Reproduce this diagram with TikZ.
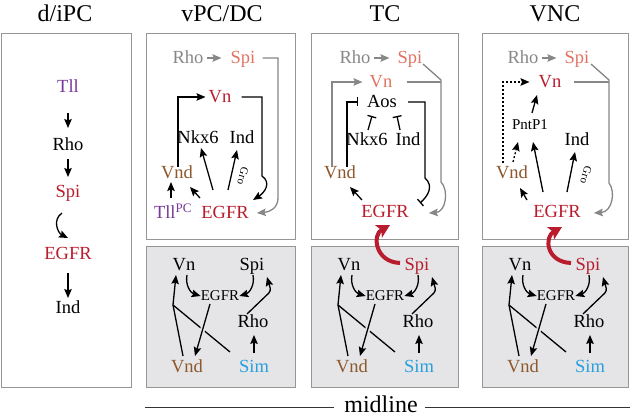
\documentclass[tikz,border=0pt]{standalone}
\usepackage{fontspec}
\setmainfont{Liberation Serif}
\usetikzlibrary{arrows.meta,calc}
\definecolor{dred}{RGB}{185,28,45}
\definecolor{salmon}{RGB}{226,115,98}
\definecolor{gline}{RGB}{135,135,135}
\definecolor{brownv}{RGB}{140,88,45}
\definecolor{purp}{RGB}{120,55,155}
\definecolor{cyanS}{RGB}{40,160,220}
\definecolor{panelfill}{RGB}{229,229,231}
\definecolor{framec}{RGB}{150,150,150}

\tikzset{
  lbl/.style={inner sep=0pt, font=\fontsize{18.5}{20}\selectfont, text height=12pt, text depth=0pt},
  slbl/.style={inner sep=0pt, font=\fontsize{15}{17}\selectfont, text height=10pt, text depth=0pt},
  grolbl/.style={inner sep=0pt, font=\fontsize{11}{12}\selectfont, rotate=-105},
  hdr/.style={inner sep=0pt, font=\fontsize{24}{26}\selectfont, text height=16pt, text depth=0pt},
  act/.style={-{Stealth[length=9pt,width=7.5pt,inset=1.5pt]}, line width=1.3pt},
  inh/.style={-{Bar[width=9pt]}, line width=1.3pt},
  bigact/.style={-{Stealth[length=13pt,width=14pt,inset=3pt]}, line width=4pt, dred},
  panelbox/.style={draw=framec, line width=1pt},
  dotline/.style={dash pattern=on 2pt off 2pt},
  plainline/.style={line width=1.3pt},
}

\newcommand{\lowerpanel}[4]{%
\begin{scope}[shift={(#2,0)}, name prefix=#1-]
  \path[panelbox, fill=panelfill] (0,247) rectangle (#3,388);
  \node[lbl] (vn) at (38,265) {Vn};
  \node[lbl, text=#4] (spi) at (106,265) {Spi};
  \node[slbl] (egfr) at (74,296) {EGFR};
  \node[lbl] (rho) at (107,322) {Rho};
  \node[lbl, text=brownv] (vnd) at (41,367) {Vnd};
  \node[lbl, text=cyanS] (sim) at (108,367) {Sim};
  \coordinate (apex) at (27,305);
  \draw[act] ($(vn)+(3,10)$) .. controls +(-2,10) and +(-10,-3) .. (egfr.west);
  \draw[act] ($(spi)+(1,10)$) .. controls +(2,10) and +(10,-3) .. (egfr.east);
  \draw[act, rounded corners=3pt] ($(rho)+(-6,-8)$) -- ($(spi)+(19,26)$) -- ($(spi)+(15,12)$);
  \draw[act] ($(sim)+(0,-14)$) -- ($(rho)+(1,13)$);
  \draw[plainline] ($(sim)+(-24,-15)$) -- (apex);
  \draw[act, preaction={draw=panelfill, line width=5pt, -, shorten <=6pt, shorten >=8pt}] ($(egfr)+(-10,8)$) -- ($(vnd)+(8,-11)$);
  \draw[act] ($(vnd)+(-4,-11)$) -- (apex) -- ($(vn)+(-8,10)$);
\end{scope}}

\begin{document}
\begin{tikzpicture}[x=1pt, y=-1pt]
\useasboundingbox (0,0) rectangle (630,419);

% headers
\node[hdr] (h0) at (65,14) {d/iPC};
\node[hdr] (h1) at (222,14) {vPC/DC};
\node[hdr] (h2) at (385,14) {TC};
\node[hdr] (h3) at (555,14) {VNC};

% d/iPC
\path[panelbox] (1,34) rectangle (131,388);
\node[lbl, text=purp] (tll0) at (68,87) {Tll};
\node[lbl] (rho0) at (68,145) {Rho};
\node[lbl, text=dred] (spi0) at (68,192) {Spi};
\node[lbl, text=dred] (egfr0) at (68,254) {EGFR};
\node[lbl] (ind0) at (68,308) {Ind};
\draw[act] ($(tll0)+(0,26)$) -- ($(rho0)+(0,-17)$);
\draw[act] ($(rho0)+(0,14)$) -- ($(spi0)+(0,-15)$);
\draw[act] ($(spi0)+(-6,21)$) .. controls +(-10,7) and +(-10,-5) .. ($(egfr0)+(0,-16)$);
\draw[act] ($(egfr0)+(0,19)$) -- ($(ind0)+(0,-10)$);

% vPC/DC top
\path[panelbox, fill=white] (146,34) rectangle (295,240);
\node[lbl, text=gline] (rho1) at (188,58) {Rho};
\node[lbl, text=salmon] (spi1) at (243,58) {Spi};
\node[lbl, text=dred] (vn1) at (220,97) {Vn};
\node[lbl] (nkx1) at (198,138) {Nkx6};
\node[lbl] (ind1) at (242,138) {Ind};
\node[lbl, text=brownv] (vnd1) at (177,173) {Vnd};
\node[lbl, text=purp] (tll1) at (173,213) {Tll\textsuperscript{PC}};
\node[lbl, text=dred] (egfr1) at (225,213) {EGFR};
\draw[act, gline] ($(rho1.east)+(3,0)$) -- ($(spi1.west)+(-9,0)$);
\draw[act, gline] ($(spi1.east)+(7,0)$) -- (278,58) -- (278,198) .. controls (278,208) and (270,212) .. ($(egfr1.east)+(8,0)$);
\draw[act] ($(vnd1.north)+(1,0)$) |- ($(vn1.west)+(-3,0)$);
\draw[act] ($(vn1.east)+(10,0)$) -- (262,97) -- (262,176) .. controls (272,183) and (264,193) .. ($(egfr1)+(28,-13)$);
\draw[act] ($(tll1)+(-2,-15)$) -- ($(vnd1)+(-6,9)$);
\draw[act] ($(egfr1)+(-25,-15)$) -- ($(vnd1)+(13,14)$);
\draw[act] ($(egfr1)+(-12,-23)$) -- ($(nkx1)+(3,10)$);
\draw[act] ($(egfr1)+(3,-23)$) -- ($(ind1)+(-5,12)$);
\node[grolbl] (gro1) at (243,176) {Gro};

% TC top
\path[panelbox, fill=white] (311,34) rectangle (458,240);
\node[lbl, text=gline] (rho2) at (355,58) {Rho};
\node[lbl, text=salmon] (spi2) at (410,58) {Spi};
\node[lbl, text=salmon] (vn2) at (381,82) {Vn};
\node[lbl] (aos2) at (382,102) {Aos};
\node[lbl] (nkx2) at (367,140) {Nkx6};
\node[lbl] (ind2) at (408,140) {Ind};
\node[lbl, text=brownv] (vnd2) at (340,173) {Vnd};
\node[lbl, text=dred] (egfr2) at (385,212) {EGFR};
\draw[act, gline] ($(rho2.east)+(3,0)$) -- ($(spi2.west)+(-8,0)$);
\draw[act, gline] ($(spi2)+(13,6)$) -- (441,80) -- (441,182) .. controls (449,190) and (446,212) .. ($(egfr2.east)+(20,1)$);
\draw[plainline, gline] ($(vn2.east)+(14,0)$) -- (441,82);
\draw[act, gline] ($(vnd2)+(-8,-6)$) |- ($(vn2.west)+(-7,0)$);
\draw[inh] ($(vnd2)+(7,-6)$) |- ($(aos2.west)+(-9,0)$);
\draw[inh] ($(aos2.east)+(11,0)$) -- (425,102) -- (425,178) .. controls (434,186) and (428,196) .. ($(egfr2)+(35,-9)$);
\draw[inh] ($(nkx2)+(1,-10)$) -- ($(aos2)+(-10,14)$);
\draw[inh] ($(ind2)+(-8,-10)$) -- ($(aos2)+(15,14)$);
\draw[act] ($(egfr2)+(-23,-12)$) -- ($(vnd2)+(10,14)$);

% VNC top
\path[panelbox, fill=white] (482,34) rectangle (628,240);
\node[lbl, text=gline] (rho3) at (523,58) {Rho};
\node[lbl, text=salmon] (spi3) at (577,58) {Spi};
\node[lbl, text=dred] (vn3) at (550,82) {Vn};
\node[slbl] (pnt3) at (530,125) {PntP1};
\node[lbl] (ind3) at (577,140) {Ind};
\node[lbl, text=brownv] (vnd3) at (512,173) {Vnd};
\node[lbl, text=dred] (egfr3) at (557,212) {EGFR};
\draw[act, gline] ($(rho3.east)+(3,0)$) -- ($(spi3.west)+(-8,0)$);
\draw[act, gline] ($(spi3)+(14,6)$) -- (609,80) -- (609,183) .. controls (616,192) and (612,212) .. ($(egfr3.east)+(13,1)$);
\draw[plainline, gline] ($(vn3.east)+(12,0)$) -- (609,82);
\draw[act, dotline] ($(vnd3)+(-9,-10)$) |- ($(vn3.west)+(-9,0)$);
\draw[act] ($(pnt3)+(2,-12)$) -- ($(vn3)+(-13,13)$);
\draw[act, dotline] ($(vnd3)+(1,-11)$) -- ($(pnt3)+(-12,17)$);
\draw[act] ($(egfr3)+(-14,-20)$) -- ($(pnt3)+(3,17)$);
\draw[act] ($(egfr3)+(-30,-12)$) -- ($(vnd3)+(8,15)$);
\draw[act] ($(egfr3)+(10,-20)$) -- ($(ind3)+(-2,12)$);
\node[grolbl] (gro3) at (586,175) {Gro};

% bottom panels
\lowerpanel{pa}{146}{149}{black}
\lowerpanel{tc}{311}{147}{dred}
\lowerpanel{vnc}{482}{146}{dred}

% big red arrows
\draw[bigact] ($(tc-spi)+(-17,-2)$) .. controls +(-25,-1) and +(-18,10) .. ($(egfr2)+(5,13)$);
\draw[bigact] ($(vnc-spi)+(-17,-2)$) .. controls +(-25,-1) and +(-18,10) .. ($(egfr3)+(5,15)$);

% midline
\node[hdr] (ml) at (381,405) {midline};
\coordinate (mlL) at (145,408);
\coordinate (mlR) at (630,408);
\draw[line width=1pt, black!80] (mlL) -- ($(ml.west |- mlL)+(-10,0)$);
\draw[line width=1pt, black!80] ($(ml.east |- mlR)+(7,0)$) -- (mlR);
\end{tikzpicture}
\end{document}
